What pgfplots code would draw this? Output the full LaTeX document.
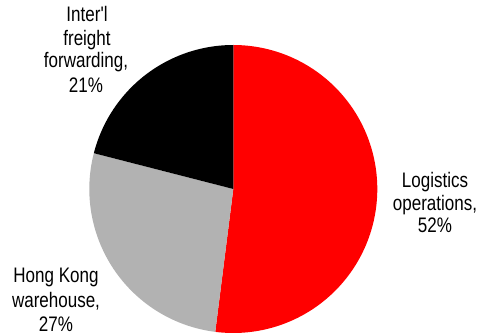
\documentclass[border=0pt]{standalone}
\usepackage{fontspec}
\setmainfont{Liberation Sans}[FakeStretch=0.81, Ligatures=TeXOff]
\usepackage{pgfplots}
\pgfplotsset{compat=1.18}
\definecolor{slicegrey}{RGB}{178,178,178}
\begin{document}
\begin{tikzpicture}
% shares (percent)
\def\vA{52}% Logistics operations
\def\vB{27}% Hong Kong warehouse
\def\vC{21}% Inter'l freight forwarding
\pgfmathsetmacro{\aA}{90}
\pgfmathsetmacro{\aB}{90-3.6*\vA}
\pgfmathsetmacro{\aC}{\aB-3.6*\vB}
\pgfmathsetmacro{\aD}{\aC-3.6*\vC}
\def\cx{233.3}\def\cy{147}\def\r{144}
\begin{axis}[
  width=483bp, height=336bp, scale only axis,
  xmin=0, xmax=483, ymin=0, ymax=336,
  hide axis, clip=false,
]
\addplot[fill=red, draw=none, domain=\aA:\aB, samples=150, variable=\t]
  ({\cx+\r*cos(t)},{\cy+\r*sin(t)}) -- (axis cs:\cx,\cy) -- cycle;
\addplot[fill=slicegrey, draw=none, domain=\aB:\aC, samples=100, variable=\t]
  ({\cx+\r*cos(t)},{\cy+\r*sin(t)}) -- (axis cs:\cx,\cy) -- cycle;
\addplot[fill=black, draw=none, domain=\aC:\aD, samples=100, variable=\t]
  ({\cx+\r*cos(t)},{\cy+\r*sin(t)}) -- (axis cs:\cx,\cy) -- cycle;
\begin{scope}[every node/.style={anchor=base, inner sep=0pt, font=\fontsize{21bp}{23bp}\selectfont}]
\node at (axis cs:87,314) {Inter'l};
\node at (axis cs:87,290) {freight};
\node at (axis cs:86,268) {forwarding,};
\node at (axis cs:86,243) {21\%};
\node at (axis cs:435,148) {Logistics};
\node at (axis cs:435,125) {operations,};
\node at (axis cs:435,103) {52\%};
\node at (axis cs:56,53) {Hong Kong};
\node at (axis cs:56,29) {warehouse,};
\node at (axis cs:56,5) {27\%};
\end{scope}
\end{axis}
\pgfresetboundingbox
\path[use as bounding box] (current axis.south west) rectangle (current axis.north east);
\end{tikzpicture}
\end{document}
